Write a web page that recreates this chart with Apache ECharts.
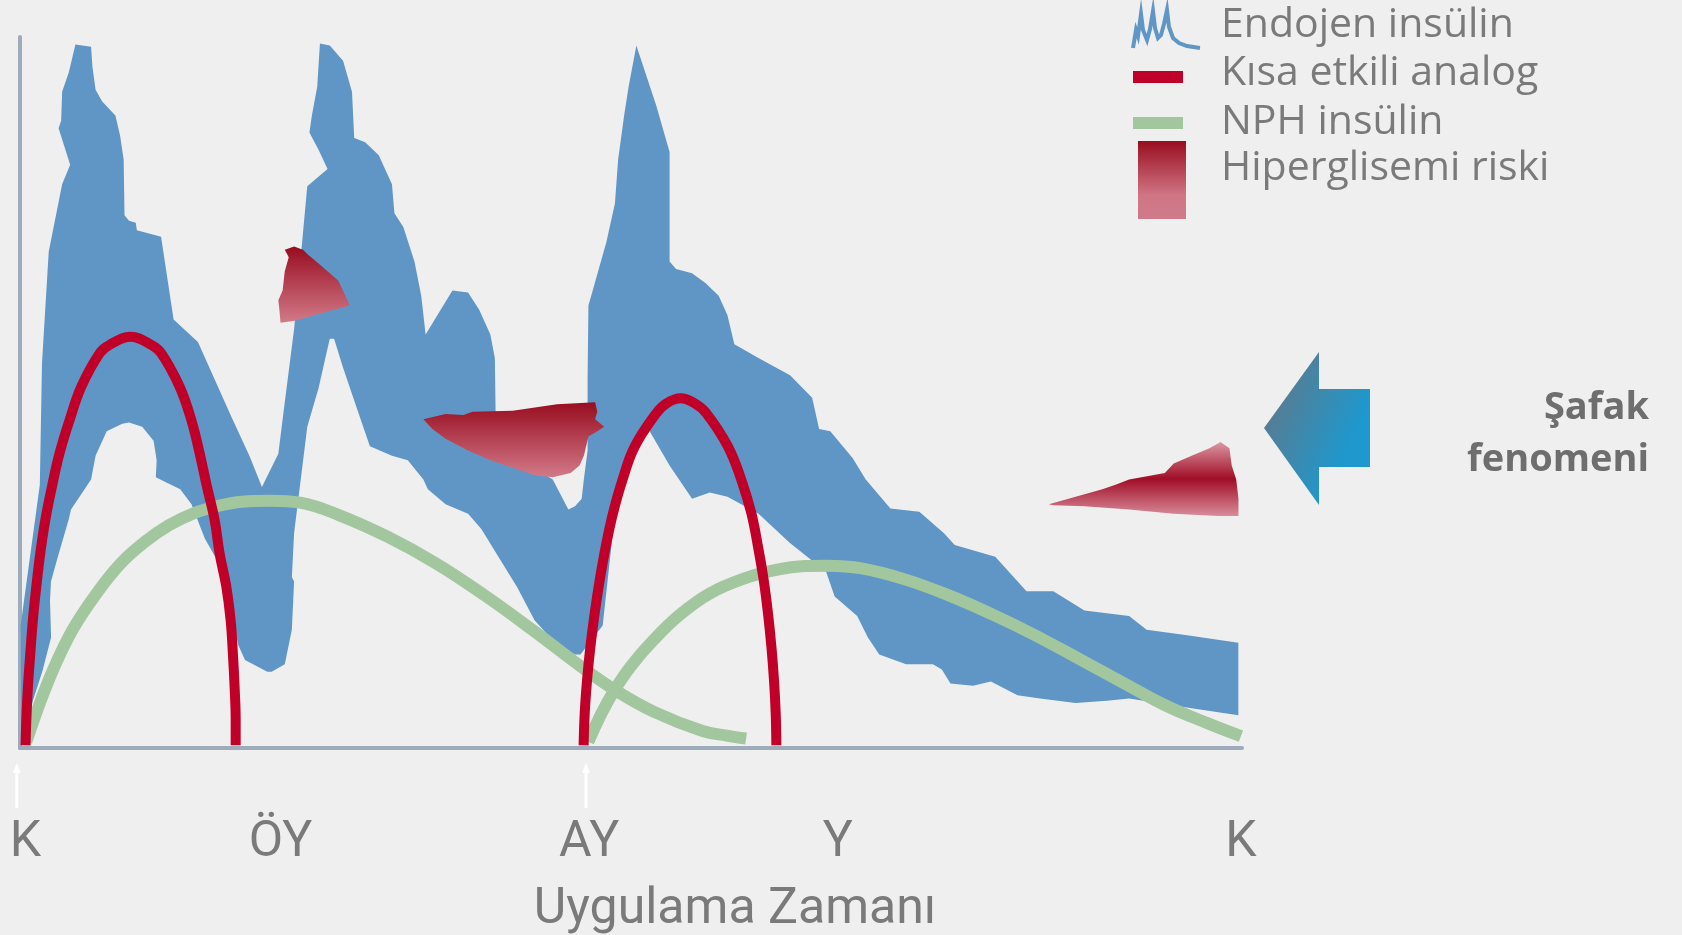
<!DOCTYPE html>
<html>
<head>
<meta charset="utf-8">
<title>İnsülin profilleri</title>
<script src="https://cdn.jsdelivr.net/npm/echarts@6/dist/echarts.min.js"></script>
<style>
  html, body { margin: 0; padding: 0; background: #efefef; }
  #chart { width: 1682px; height: 935px; }
</style>
</head>
<body>
<div id="chart"></div>
<script>
// zaman ekseni: K (kahvaltı) -> K, birimler keyfi
const tickPos = [5, 243, 531, 763, 1139];
const tickText = ["K", "ÖY", "AY", "Y", "K"];
const injections = [-3, 528];

// endojen insülin bandı: üst kenar (soldan sağa) ve alt kenar (sağdan sola)
const endoUpper = [
  [0.6, 114], [18.5, 245], [20.5, 358], [26.8, 462], [39.3, 525], [46.8, 543],
  [36, 577], [38.4, 584], [39.3, 611], [45.5, 629], [51.7, 655], [66.3, 653],
  [67.6, 634], [70.5, 613], [76.7, 602], [89, 589], [93.4, 570], [96.7, 548],
  [97.5, 496], [101.7, 491], [108, 489], [109, 482], [131.6, 476], [143.3, 399],
  [166, 378], [180.8, 345], [197.4, 308], [214, 272], [225.7, 243], [241, 274],
  [247, 322], [255.7, 390], [268, 523], [286.9, 539], [278.5, 557], [270, 573],
  [272.3, 589], [277.3, 616], [279.8, 656], [289, 654], [301.4, 640], [309.7, 611],
  [311.8, 568], [322, 564], [334.7, 552], [347, 525], [349.3, 498], [357.6, 485],
  [368, 453], [374.3, 421], [378.4, 385], [403.4, 426], [418, 424], [428.4, 408],
  [438.8, 385], [443, 363], [443.8, 304], [461, 272], [486, 257], [497, 250],
  [511.6, 222], [517.8, 225], [524, 232], [526, 250], [529.5, 277], [529.5, 345],
  [530.3, 412], [547, 471], [555, 507], [558, 548], [563.6, 589], [567.8, 616],
  [575, 654], [593.6, 598], [606, 555], [606, 453], [612, 446], [626.9, 442],
  [639.4, 433], [651.8, 421], [660, 403], [666.4, 376], [689.3, 363], [718.4, 347],
  [739, 326], [745.5, 297], [755.9, 295], [776.7, 270], [789, 250], [812, 223],
  [839, 220], [862, 200], [872, 189], [909.8, 178], [939, 146], [964, 146],
  [993, 128], [1034.7, 123], [1051, 110], [1088.8, 105], [1136.6, 98]
];
const endoLower = [
  [1136.6, 30.5], [1093, 37], [1034.7, 46], [1014, 44], [984.8, 42], [951.5, 46],
  [930.6, 49], [905.7, 62], [889, 58], [868, 60], [860, 73], [851.6, 78],
  [826.6, 78], [801.6, 87], [791, 103], [781, 123], [760, 141], [752, 164],
  [718, 191], [689, 218], [660, 234], [643.5, 238], [627, 232], [606, 263],
  [585, 299], [568.6, 277], [554, 209], [543.6, 114], [522.8, 87], [517.8, 87],
  [501, 96], [480, 119], [463.7, 150], [447, 177], [430.4, 204], [418, 218],
  [397, 227], [380.5, 241], [376.3, 250], [361.8, 268], [347, 272], [326.4, 281],
  [314, 317], [301.4, 354], [293, 381], [289, 381], [286.9, 372], [278.5, 335],
  [268, 299], [255.7, 200], [253.6, 159], [255.7, 155], [253.6, 110], [247, 78],
  [234.8, 71], [230.7, 71], [209.9, 82], [203.6, 96], [197.4, 128], [185, 173],
  [172.4, 195], [160, 227], [149.5, 241], [137, 247], [126.7, 252], [127.5, 268],
  [124.6, 286], [114, 299], [101.7, 303], [95.4, 302], [80.9, 295], [70.5, 272],
  [66.3, 250], [47.6, 222], [45.5, 213], [35, 177], [28.9, 155], [28, 137],
  [29, 103], [21, 72], [12, 44], [6, 20], [3, 5], [1, 5]
];

// kısa etkili analog
const analog1 = [
  [5.2, 2.5], [5.9, 25.8], [7.4, 56.9], [9.6, 88], [12, 119], [15.2, 150.1],
  [18.9, 181.2], [23.6, 212.2], [29.8, 243.3], [36.9, 274.4], [46.3, 305.5],
  [57.2, 336.5], [74.3, 367.6], [83.6, 375.4], [103.2, 382.9], [122.5, 375.4],
  [131.8, 367.6], [148.9, 336.5], [159.8, 305.5], [167.6, 274.4], [174.4, 243.3],
  [181.6, 212.2], [186.2, 181.2], [192.5, 150.1], [196.5, 119], [198.6, 88],
  [200.2, 56.9], [201.2, 25.8], [201.2, 2.5]
];
const analog2 = [
  [525.8, 2.5], [526.8, 32.1], [529, 63.1], [532.1, 94.1], [536.1, 125.3],
  [540.8, 156.3], [546.4, 187.4], [553.2, 218.5], [562, 249.5], [573.4, 280.6],
  [593.6, 311.7], [603.3, 321], [616.3, 325.6], [629.3, 321], [640.3, 311.7],
  [660.5, 280.6], [673, 249.5], [682.3, 218.5], [688.5, 187.4], [693.8, 156.3],
  [697.8, 125.3], [701, 94.1], [703.4, 63.1], [705, 32.1], [705.6, 2.5]
];

// NPH insülin
const nph1 = [
  [5.9, 5.6], [17.2, 38.2], [30.7, 72.4], [48.8, 109.7], [71.4, 143.9], [94, 171.9],
  [116.6, 192], [139.3, 207.6], [161.9, 218.5], [184.5, 225.3], [207.1, 229.3],
  [234.3, 230.2], [261.3, 228.4], [297.5, 216.9], [342.8, 196.7], [388, 171.9],
  [433.2, 142.3], [478.4, 109.7], [523.7, 75.5], [555.3, 53.8], [591.5, 33.6],
  [636.8, 15.8], [659.4, 11.6], [677.4, 8.8]
];
const nph2 = [
  [530.2, 5.6], [542.4, 32.1], [554.5, 53.8], [570.6, 77.1], [590.9, 100.4],
  [615.1, 123.7], [643.5, 143.9], [675.9, 157.9], [704.2, 165.6], [732.5, 169.4],
  [752.8, 169.7], [785.1, 167.2], [825.5, 157], [866, 142.3], [906.5, 124.6],
  [946.9, 105], [987.4, 83.3], [1027.8, 61.5], [1068.3, 39.8], [1108.8, 22.7],
  [1139, 11]
];

// hiperglisemi riski bölgeleri
const risk1 = [
  [247, 464], [255.7, 467], [264, 464], [268, 460], [278.5, 451], [289, 442],
  [297, 435], [303.5, 421], [307.7, 412], [293, 408], [278.5, 404], [268, 401],
  [257.7, 398], [243, 396], [242, 408], [241, 417], [245, 426], [247, 444],
  [250.7, 457]
];
const risk2 = [
  [376.3, 306], [397, 311], [413.8, 310], [422, 313], [459.6, 314], [501, 320],
  [536.5, 322], [538.6, 313], [536.5, 306], [545, 299], [538.6, 295], [530.3, 290],
  [526, 272], [522, 263], [513.7, 256], [497, 252], [480, 254], [459.6, 261],
  [438.8, 268], [418, 277], [397, 288], [384.7, 297]
];
const risk3 = [
  [959.8, 227], [984.8, 234], [1009.7, 241], [1022, 245], [1034.7, 250], [1068, 256],
  [1076.3, 265], [1093, 272], [1109.6, 279], [1120, 285], [1128.3, 279], [1130.4, 263],
  [1134.6, 250], [1136.7, 232], [1136.7, 216], [1118, 216], [1076, 218], [1034.7, 222],
  [993, 225], [964, 226]
];

const BLUE = "#5f96c5";
const RED = "#c00028";
const GREEN = "#a2c79e";
const TEXT = "#7a7a7a";
const AXIS_FONT = "Roboto, 'Open Sans', sans-serif";

function riskFill() {
  return new echarts.graphic.LinearGradient(0, 0, 0, 1, [
    { offset: 0, color: "#980c20" },
    { offset: 1, color: "#d27a89" },
  ]);
}

// bir nokta listesini tek çokgen olarak çizer
function areaSeries(name, pts, fill, z) {
  return {
    type: "custom",
    name: name,
    z: z,
    silent: true,
    data: pts,
    renderItem: function (params, api) {
      if (params.dataIndex !== 0) return null;
      return {
        type: "polygon",
        shape: { points: pts.map((p) => api.coord(p)) },
        style: { fill: fill },
      };
    },
  };
}

function lineSeries(name, pts, color, width, z) {
  return {
    type: "line",
    name: name,
    z: z,
    data: pts,
    smooth: 0.4,
    showSymbol: false,
    silent: true,
    lineStyle: { color: color, width: width, cap: "butt" },
  };
}

const chart = echarts.init(document.getElementById("chart"));

const option = {
  backgroundColor: "#efefef",
  animation: false,
  grid: { left: 20, right: 440, top: 37, bottom: 187, outerBoundsMode: "none" },
  xAxis: {
    type: "value",
    min: 0,
    max: 1140,
    name: "Uygulama Zamanı",
    nameLocation: "middle",
    nameGap: 137,
    nameTextStyle: {
      color: TEXT,
      fontSize: 50,
      fontFamily: AXIS_FONT,
      padding: [0, 0, 0, 208],
    },
    axisLine: { show: true, lineStyle: { color: "#9eabba", width: 4 } },
    axisTick: { show: false },
    splitLine: { show: false },
    axisLabel: {
      customValues: tickPos,
      margin: 70,
      color: TEXT,
      fontSize: 50,
      fontFamily: AXIS_FONT,
      formatter: function (v) {
        const i = tickPos.indexOf(v);
        return i < 0 ? "" : tickText[i];
      },
    },
  },
  yAxis: {
    type: "value",
    min: 0,
    max: 662,
    axisLine: { show: true, lineStyle: { color: "#9eabba", width: 4 } },
    axisTick: { show: false },
    axisLabel: { show: false },
    splitLine: { show: false },
  },
  series: [
    areaSeries("Endojen insülin", endoUpper.concat(endoLower), BLUE, 1),
    areaSeries("Hiperglisemi riski", risk1, riskFill(), 2),
    areaSeries("Hiperglisemi riski", risk2, riskFill(), 2),
    areaSeries(
      "Hiperglisemi riski",
      risk3,
      new echarts.graphic.LinearGradient(0, 0, 0, 1, [
        { offset: 0, color: "#dc98a4" },
        { offset: 0.5, color: "#a00d26" },
        { offset: 1, color: "#d88c9a" },
      ]),
      2
    ),
    lineSeries("NPH insülin", nph1, GREEN, 12, 3),
    lineSeries("NPH insülin", nph2, GREEN, 12, 3),
    lineSeries("Kısa etkili analog", analog1, RED, 10, 4),
    lineSeries("Kısa etkili analog", analog2, RED, 10, 4),
    // enjeksiyon okları (eksenin altında)
    {
      type: "custom",
      name: "enjeksiyon",
      z: 5,
      silent: true,
      clip: false,
      data: injections.map((x) => [x, 0]),
      renderItem: function (params, api) {
        const p = api.coord([api.value(0), 0]);
        return {
          type: "group",
          children: [
            {
              type: "line",
              shape: { x1: p[0], y1: p[1] + 22, x2: p[0], y2: p[1] + 60 },
              style: { stroke: "#ffffff", lineWidth: 3 },
            },
            {
              type: "polygon",
              shape: { points: [[p[0], p[1] + 15], [p[0] - 4, p[1] + 25], [p[0] + 4, p[1] + 25]] },
              style: { fill: "#ffffff" },
            },
          ],
        };
      },
    },
  ],
  graphic: [
    // lejant
    {
      type: "polyline",
      shape: {
        points: [
          [1133, 48], [1136, 30], [1138, 36], [1141, 14], [1143, 30], [1147, 40],
          [1150, 29], [1153, 11], [1155, 28], [1158, 38], [1161, 35], [1164, 24],
          [1167, 10], [1169, 27], [1173, 38], [1179, 43], [1187, 46], [1200, 48],
        ],
      },
      style: { stroke: BLUE, lineWidth: 4, fill: null },
    },
    { type: "rect", shape: { x: 1133, y: 71, width: 50, height: 12 }, style: { fill: RED } },
    { type: "rect", shape: { x: 1133, y: 117, width: 50, height: 12 }, style: { fill: GREEN } },
    {
      type: "rect",
      shape: { x: 1138, y: 141, width: 48, height: 78 },
      style: {
        fill: new echarts.graphic.LinearGradient(0, 0, 0, 1, [
          { offset: 0, color: "#990d1f" },
          { offset: 0.7, color: "#cf7685" },
          { offset: 1, color: "#d07a89" },
        ]),
      },
    },
    { type: "text", x: 1221, y: 25, style: { text: "Endojen insülin", fill: TEXT, font: "41px 'Open Sans'", verticalAlign: "middle" } },
    { type: "text", x: 1221, y: 73, style: { text: "Kısa etkili analog", fill: TEXT, font: "41px 'Open Sans'", verticalAlign: "middle" } },
    { type: "text", x: 1221, y: 122, style: { text: "NPH insülin", fill: TEXT, font: "41px 'Open Sans'", verticalAlign: "middle" } },
    { type: "text", x: 1221, y: 168, style: { text: "Hiperglisemi riski", fill: TEXT, font: "41px 'Open Sans'", verticalAlign: "middle" } },
    // şafak fenomeni oku
    {
      type: "polygon",
      shape: {
        points: [[1264, 428], [1319, 352], [1319, 389], [1370, 389], [1370, 467], [1319, 467], [1319, 505]],
      },
      style: {
        fill: new echarts.graphic.LinearGradient(0, 0, 1, 0.3, [
          { offset: 0, color: "#6a7380" },
          { offset: 1, color: "#1e98cd" },
        ]),
      },
    },
    { type: "text", x: 1649, y: 408, style: { text: "Şafak", fill: "#6e6e6e", font: "bold 38px 'Open Sans'", align: "right", verticalAlign: "middle" } },
    { type: "text", x: 1649, y: 460, style: { text: "fenomeni", fill: "#6e6e6e", font: "bold 38px 'Open Sans'", align: "right", verticalAlign: "middle" } },
  ],
};

chart.setOption(option);
</script>
</body>
</html>
